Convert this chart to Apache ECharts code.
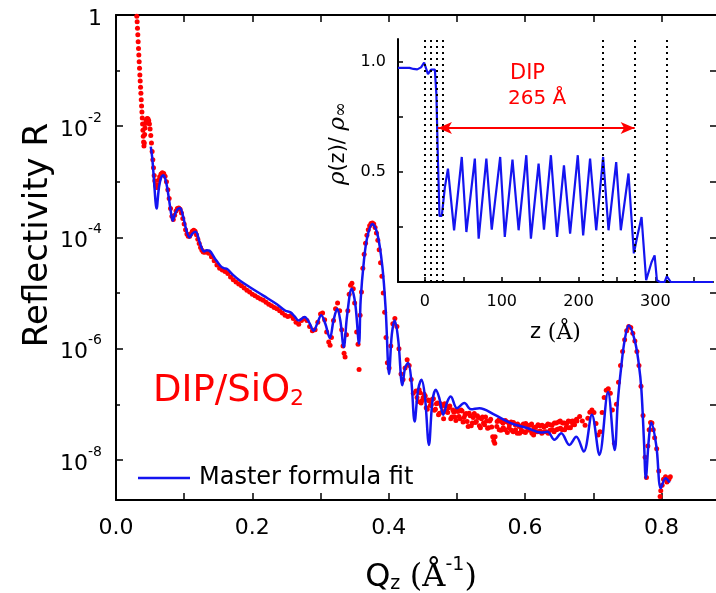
<!DOCTYPE html>
<html>
<head>
<meta charset="utf-8">
<script src="https://cdn.jsdelivr.net/npm/echarts@6/dist/echarts.min.js"></script>
<style>
  html, body { margin: 0; padding: 0; background: #fff; }
  #chart { width: 716px; height: 593px; }
</style>
</head>
<body>
<div id="chart"></div>
<script>
// measured reflectivity: [Qz (1/Å), R]
const measured = [
  [0.0305, 9.5e-1], [0.0310, 7.6e-1], [0.0315, 5.8e-1], [0.0320, 4.4e-1], [0.0325, 3.3e-1],
  [0.0330, 2.5e-1], [0.0335, 1.9e-1], [0.0340, 1.45e-1], [0.0345, 1.1e-1], [0.0350, 8.3e-2],
  [0.0355, 6.5e-2], [0.0360, 5.0e-2], [0.0365, 3.9e-2], [0.0370, 3.0e-2], [0.0375, 2.3e-2],
  [0.0380, 1.8e-2], [0.0385, 1.4e-2], [0.0390, 1.1e-2], [0.0395, 8.5e-3], [0.0400, 6.6e-3],
  [0.0405, 5.2e-3], [0.0410, 4.4e-3], [0.0415, 5.0e-3], [0.0420, 7.1e-3], [0.0425, 9.3e-3],
  [0.0432, 1.12e-2], [0.0440, 1.26e-2], [0.0450, 1.35e-2], [0.0460, 1.38e-2], [0.0470, 1.35e-2],
  [0.0480, 1.26e-2], [0.0490, 1.1e-2], [0.0500, 8.9e-3], [0.0510, 6.8e-3], [0.0520, 5.0e-3],
  [0.0530, 3.5e-3], [0.0540, 2.5e-3], [0.0550, 1.8e-3], [0.0560, 1.3e-3], [0.0570, 1.05e-3],
  [0.0580, 8.7e-4], [0.0590, 7.9e-4], [0.0600, 7.9e-4], [0.0610, 8.9e-4], [0.0625, 1.07e-3],
  [0.0640, 1.23e-3], [0.0660, 1.38e-3], [0.0680, 1.45e-3], [0.0700, 1.41e-3], [0.0720, 1.26e-3],
  [0.0740, 1.0e-3], [0.0760, 7.2e-4], [0.0780, 5.0e-4], [0.0800, 3.3e-4], [0.0820, 2.4e-4],
  [0.0840, 2.1e-4], [0.0860, 2.5e-4], [0.0880, 3.0e-4], [0.0900, 3.3e-4], [0.0920, 3.4e-4],
  [0.0940, 3.2e-4], [0.0960, 2.75e-4], [0.0980, 2.2e-4], [0.1000, 1.74e-4], [0.1020, 1.38e-4],
  [0.1040, 1.15e-4], [0.1060, 1.05e-4], [0.1080, 1.05e-4], [0.1100, 1.17e-4], [0.1120, 1.29e-4],
  [0.1140, 1.35e-4], [0.1160, 1.29e-4], [0.1180, 1.12e-4], [0.1200, 9.3e-5], [0.1220, 7.8e-5],
  [0.1240, 6.6e-5], [0.1260, 5.9e-5], [0.1280, 5.5e-5], [0.1300, 5.4e-5], [0.1330, 5.5e-5],
  [0.1360, 5.2e-5], [0.1400, 4.5e-5], [0.1440, 3.8e-5], [0.1480, 3.2e-5], [0.1520, 2.8e-5],
  [0.1560, 2.6e-5], [0.1600, 2.45e-5], [0.1640, 2.24e-5], [0.1680, 1.95e-5], [0.1720, 1.74e-5],
  [0.1760, 1.58e-5], [0.1800, 1.45e-5], [0.1840, 1.35e-5], [0.1880, 1.23e-5], [0.1920, 1.12e-5],
  [0.1960, 1.05e-5], [0.2000, 9.5e-6], [0.2040, 8.9e-6], [0.2080, 8.3e-6], [0.2120, 7.8e-6],
  [0.2160, 7.4e-6], [0.2200, 6.8e-6], [0.2240, 6.3e-6], [0.2280, 5.9e-6], [0.2320, 5.5e-6],
  [0.2360, 5.2e-6], [0.2400, 4.8e-6], [0.2440, 4.4e-6], [0.2480, 4.0e-6], [0.2520, 3.8e-6],
  [0.2560, 3.9e-6], [0.2600, 3.5e-6], [0.2640, 3.0e-6], [0.2680, 2.75e-6], [0.2720, 3.2e-6],
  [0.2760, 3.5e-6], [0.2800, 3.2e-6], [0.2840, 2.5e-6], [0.2880, 2.1e-6], [0.2920, 2.2e-6],
  [0.2960, 3.0e-6], [0.3000, 4.2e-6], [0.3030, 4.4e-6], [0.3060, 3.3e-6], [0.3090, 2.0e-6],
  [0.3120, 1.32e-6], [0.3140, 1.15e-6], [0.3160, 1.58e-6], [0.3190, 3.2e-6], [0.3220, 5.2e-6],
  [0.3250, 6.6e-6], [0.3280, 4.8e-6], [0.3310, 2.2e-6], [0.3330, 1.12e-6], [0.3345, 8.3e-7],
  [0.3360, 7.1e-7], [0.3380, 1.78e-6], [0.3400, 4.8e-6], [0.3420, 9.5e-6], [0.3440, 1.38e-5],
  [0.3460, 1.5e-5], [0.3480, 1.2e-5], [0.3500, 6.6e-6], [0.3530, 2.0e-6], [0.3550, 1.2e-6],
  [0.3565, 4.2e-7], [0.3580, 4.0e-6], [0.3600, 1.05e-5], [0.3620, 2.8e-5], [0.3640, 5.0e-5],
  [0.3660, 7.9e-5], [0.3680, 1.1e-4], [0.3700, 1.38e-4], [0.3720, 1.62e-4], [0.3740, 1.78e-4],
  [0.3760, 1.82e-4], [0.3780, 1.74e-4], [0.3800, 1.51e-4], [0.3820, 1.2e-4], [0.3840, 8.9e-5],
  [0.3860, 6.0e-5], [0.3880, 3.5e-5], [0.3900, 2.0e-5], [0.3920, 1.0e-5], [0.3940, 4.5e-6],
  [0.3960, 1.58e-6], [0.3980, 5.6e-7], [0.4005, 4.5e-7], [0.4030, 1.12e-6], [0.4060, 2.8e-6],
  [0.4090, 3.5e-6], [0.4120, 2.5e-6], [0.4150, 1.0e-6], [0.4180, 3.5e-7], [0.4210, 2.8e-7],
  [0.4240, 4.5e-7], [0.4270, 6.3e-7], [0.4300, 5.0e-7], [0.4330, 2.8e-7], [0.4360, 1.58e-7],
  [0.440, 1.74e-7], [0.443, 1.12e-7], [0.446, 1.62e-7], [0.449, 1.17e-7], [0.452, 1.51e-7],
  [0.455, 8.7e-8], [0.458, 1.2e-7], [0.461, 9.5e-8], [0.464, 1.23e-7], [0.467, 7.8e-8],
  [0.470, 1.02e-7], [0.473, 6.5e-8], [0.476, 1.02e-7], [0.479, 7.4e-8], [0.482, 1.02e-7],
  [0.485, 7.4e-8], [0.488, 8.7e-8], [0.491, 5.5e-8], [0.494, 7.9e-8], [0.497, 5.9e-8],
  [0.500, 7.9e-8], [0.503, 6.0e-8], [0.506, 7.9e-8], [0.509, 4.8e-8], [0.512, 6.5e-8],
  [0.515, 4.9e-8], [0.518, 6.9e-8], [0.521, 4.1e-8], [0.524, 5.8e-8], [0.527, 4.7e-8],
  [0.530, 6.2e-8], [0.533, 4.1e-8], [0.536, 5.5e-8], [0.539, 4.6e-8], [0.542, 5.9e-8],
  [0.545, 3.7e-8], [0.548, 5.0e-8], [0.551, 3.9e-8], [0.554, 2.2e-8], [0.556, 2.6e-8],
  [0.559, 4.9e-8], [0.562, 3.5e-8], [0.565, 4.9e-8], [0.568, 3.8e-8], [0.571, 5.1e-8],
  [0.574, 3.1e-8], [0.577, 4.3e-8], [0.580, 3.4e-8], [0.583, 4.7e-8], [0.586, 3.5e-8],
  [0.589, 4.4e-8], [0.592, 3.0e-8], [0.595, 4.1e-8], [0.598, 3.2e-8], [0.601, 4.5e-8],
  [0.604, 3.5e-8], [0.607, 4.2e-8], [0.610, 3.0e-8], [0.613, 3.8e-8], [0.616, 3.2e-8],
  [0.619, 4.3e-8], [0.622, 3.3e-8], [0.625, 4.2e-8], [0.628, 3.2e-8], [0.631, 4.1e-8],
  [0.634, 3.0e-8], [0.637, 4.3e-8], [0.640, 3.5e-8], [0.643, 4.6e-8], [0.646, 3.5e-8],
  [0.649, 4.8e-8], [0.652, 3.7e-8], [0.655, 4.6e-8], [0.658, 3.5e-8], [0.661, 4.5e-8],
  [0.664, 3.8e-8], [0.667, 4.9e-8], [0.670, 4.3e-8], [0.673, 5.0e-8], [0.676, 5.0e-8],
  [0.4415, 1.32e-7], [0.4445, 1.82e-7], [0.4475, 1.05e-7], [0.4505, 1.32e-7], [0.4535, 1.41e-7],
  [0.4565, 8.1e-8], [0.4595, 1.15e-7], [0.4625, 9.8e-8], [0.4655, 1.26e-7], [0.4685, 8.1e-8],
  [0.4715, 1.05e-7], [0.4745, 6.9e-8], [0.4775, 9.1e-8], [0.4805, 5.5e-8], [0.4835, 9.3e-8],
  [0.4865, 7.1e-8], [0.4895, 9.3e-8], [0.4925, 5.9e-8], [0.4955, 7.2e-8], [0.4985, 5.1e-8],
  [0.5015, 7.4e-8], [0.5045, 5.5e-8], [0.5075, 7.6e-8], [0.5105, 5.8e-8], [0.5135, 6.8e-8],
  [0.5165, 4.0e-8], [0.5195, 6.2e-8], [0.5225, 4.6e-8], [0.5255, 6.8e-8], [0.5285, 4.9e-8],
  [0.5315, 5.8e-8], [0.5345, 3.8e-8], [0.5375, 5.9e-8], [0.5405, 4.3e-8], [0.5435, 5.0e-8],
  [0.5465, 3.8e-8], [0.5495, 5.4e-8], [0.5525, 2.6e-8], [0.5555, 2.0e-8], [0.5585, 4.0e-8],
  [0.5615, 5.2e-8], [0.5645, 3.4e-8], [0.5675, 4.6e-8], [0.5705, 3.5e-8], [0.5735, 4.8e-8],
  [0.5765, 3.8e-8], [0.5795, 4.8e-8], [0.5825, 3.2e-8], [0.5855, 4.3e-8], [0.5885, 3.0e-8],
  [0.5915, 4.0e-8], [0.5945, 3.4e-8], [0.5975, 4.4e-8], [0.6005, 3.1e-8], [0.6035, 4.1e-8],
  [0.6065, 3.4e-8], [0.6095, 4.4e-8], [0.6125, 2.8e-8], [0.6155, 3.9e-8], [0.6185, 3.2e-8],
  [0.6215, 4.1e-8], [0.6245, 3.0e-8], [0.6275, 3.9e-8], [0.6305, 3.2e-8], [0.6335, 4.4e-8],
  [0.6365, 3.4e-8], [0.6395, 4.2e-8], [0.6425, 3.2e-8], [0.6455, 4.6e-8], [0.6485, 3.6e-8],
  [0.6515, 5.0e-8], [0.6545, 3.5e-8], [0.6575, 4.6e-8], [0.6605, 3.9e-8], [0.6635, 5.0e-8],
  [0.6665, 3.8e-8], [0.6695, 5.0e-8], [0.6725, 4.3e-8], [0.6755, 5.4e-8],
  [0.680, 6.0e-8], [0.684, 5.0e-8], [0.688, 4.2e-8], [0.692, 5.6e-8], [0.695, 7.2e-8],
  [0.698, 7.9e-8], [0.701, 7.1e-8], [0.704, 4.5e-8], [0.707, 2.8e-8], [0.710, 3.2e-8],
  [0.713, 7.1e-8], [0.716, 1.32e-7], [0.719, 1.78e-7], [0.722, 1.9e-7], [0.725, 1.58e-7],
  [0.728, 7.9e-8], [0.731, 2.0e-8], [0.734, 1.0e-7], [0.737, 2.5e-7], [0.740, 5.0e-7],
  [0.743, 8.9e-7], [0.746, 1.45e-6], [0.749, 2.1e-6], [0.752, 2.5e-6], [0.755, 2.4e-6],
  [0.758, 1.9e-6], [0.761, 1.38e-6], [0.764, 8.9e-7], [0.767, 5.0e-7], [0.770, 2.1e-7],
  [0.773, 6.3e-8], [0.776, 1.12e-8], [0.778, 4.8e-9], [0.780, 1.78e-8], [0.782, 3.5e-8],
  [0.784, 4.7e-8], [0.786, 4.6e-8], [0.788, 3.5e-8], [0.790, 2.5e-8], [0.793, 1.58e-8],
  [0.796, 6.3e-9], [0.798, 2.2e-9], [0.799, 2.8e-9], [0.801, 3.5e-9], [0.803, 4.5e-9],
  [0.806, 5.0e-9], [0.808, 4.0e-9], [0.811, 4.5e-9], [0.813, 5.0e-9]
];

// master formula fit
const fitQ = [
  0.051, 0.053, 0.055, 0.057, 0.0585, 0.0598, 0.061, 0.063, 0.066, 0.0696,
  0.073, 0.077, 0.081, 0.0832, 0.086, 0.090, 0.094, 0.098, 0.103, 0.1078,
  0.112, 0.117, 0.122, 0.126, 0.129, 0.133, 0.137, 0.145, 0.153, 0.158,
  0.163, 0.172, 0.182, 0.197, 0.2167, 0.236, 0.2485, 0.256, 0.262, 0.268,
  0.2765, 0.283, 0.290, 0.295, 0.301, 0.307, 0.3137, 0.319, 0.3245, 0.329,
  0.334, 0.339, 0.3456, 0.351, 0.3564, 0.3588, 0.3637, 0.3686, 0.376, 0.3833,
  0.3907, 0.3956, 0.4005, 0.4045, 0.4088, 0.414, 0.420, 0.424, 0.4284, 0.433,
  0.438, 0.443, 0.448, 0.453, 0.459, 0.464, 0.469, 0.474, 0.480, 0.486,
  0.491, 0.500, 0.511, 0.5206, 0.533, 0.555, 0.579, 0.604, 0.6235, 0.633,
  0.643, 0.653, 0.665, 0.675, 0.686, 0.698, 0.709, 0.7216, 0.7314, 0.736,
  0.741, 0.746, 0.752, 0.7608, 0.7666, 0.7706, 0.7745, 0.777, 0.7814, 0.785,
  0.7926, 0.799, 0.806, 0.812
];
const fitR = [
  4.3e-3, 2.8e-3, 1.4e-3, 6.3e-4, 3.8e-4, 3.3e-4, 4.5e-4, 7.9e-4, 1.17e-3, 1.32e-3,
  1.05e-3, 5.6e-4, 2.6e-4, 2.0e-4, 2.5e-4, 3.2e-4, 3.4e-4, 2.5e-4, 1.38e-4, 1.0e-4,
  1.17e-4, 1.26e-4, 8.7e-5, 6.3e-5, 5.6e-5, 5.9e-5, 5.8e-5, 4.2e-5, 3.1e-5, 2.8e-5,
  2.7e-5, 2.1e-5, 1.66e-5, 1.26e-5, 8.9e-6, 6.3e-6, 4.8e-6, 4.5e-6, 3.8e-6, 3.2e-6,
  3.7e-6, 3.0e-6, 2.1e-6, 2.8e-6, 4.0e-6, 2.8e-6, 1.55e-6, 3.2e-6, 5.2e-6, 3.2e-6,
  1.07e-6, 4.0e-6, 1.2e-5, 6.3e-6, 1.23e-6, 7.4e-6, 3.9e-5, 1.02e-4, 1.74e-4, 1.17e-4,
  2.95e-5, 4.9e-6, 3.5e-7, 1.78e-6, 3.2e-6, 1.41e-6, 2.2e-7, 4.5e-7, 5.6e-7, 2.8e-7,
  4.9e-8, 1.78e-7, 2.75e-7, 1.41e-7, 1.86e-8, 1.12e-7, 1.82e-7, 1.32e-7, 6.5e-8, 1.12e-7,
  1.38e-7, 8.5e-8, 1.05e-7, 8.1e-8, 8.5e-8, 6.5e-8, 4.6e-8, 3.7e-8, 3.1e-8, 3.2e-8,
  2.3e-8, 3.0e-8, 1.86e-8, 2.6e-8, 1.41e-8, 6.5e-8, 1.23e-8, 1.66e-7, 1.51e-8, 1.12e-7,
  4.7e-7, 1.41e-6, 2.6e-6, 1.41e-6, 5.5e-7, 1.82e-7, 2.0e-8, 4.7e-9, 2.3e-8, 4.7e-8,
  1.74e-8, 3.1e-9, 4.7e-9, 3.9e-9
];

// inset: density profile rho(z)/rho_inf
const profileZ = [
  -35, -20, -15, -10, -5, -1, 4, 8, 10, 13, 15, 17, 19, 22, 26, 30, 38, 48, 54, 65,
  70, 80, 87, 98, 104, 114, 122, 132, 138, 148, 155, 164, 172, 181, 189, 199, 206, 215, 223, 232,
  239, 249, 255, 265, 272, 276, 282, 288, 295, 299, 302, 306, 312, 315, 320, 375
];
const profileRho = [
  0.973, 0.973, 0.968, 0.966, 0.975, 0.997, 0.944, 0.965, 0.973, 0.965, 0.85, 0.55, 0.30, 0.30, 0.43, 0.515, 0.235, 0.568, 0.227, 0.561,
  0.197, 0.561, 0.238, 0.568, 0.205, 0.556, 0.235, 0.576, 0.197, 0.538, 0.238, 0.576, 0.205, 0.530, 0.22, 0.576, 0.212, 0.561, 0.235, 0.568,
  0.235, 0.545, 0.235, 0.493, 0.13, 0.20, 0.295, 0.008, 0.09, 0.121, 0.008, 0.0, 0.0, 0.026, 0.0, 0.0
];
const layerEdges = [0, 8, 16, 23, 232, 273, 315];
const dipArrowZ = [17, 273];
const dipArrowRho = 0.70;

// ticks and labels
const qTicks = [0.1, 0.2, 0.3, 0.4, 0.5, 0.6, 0.7, 0.8];
const qLabels = [0, 0.2, 0.4, 0.6, 0.8];
const rMajor = [1e-8, 1e-6, 1e-4, 1e-2, 1];
const rMinor = [1e-7, 1e-5, 1e-3, 1e-1];
const rAll = [1e-8, 1e-7, 1e-6, 1e-5, 1e-4, 1e-3, 1e-2, 1e-1];
const zTicks = [0, 50, 100, 150, 200, 250, 300, 350];
const zLabels = [0, 100, 200, 300];
const rhoTicks = [0.25, 0.5, 0.75, 1.0];
const rhoLabels = [0.5, 1.0];

const FONT = 'DejaVu Sans';
const SERIF = 'DejaVu Serif';
const RED = '#ff0000';
const BLUE = '#1414f0';
const AXIS = { color: '#000', width: 2 };

function powLabel(v) {
  const e = Math.round(Math.log10(v));
  if (e === 0) return '{b|1}';
  return '{b|10}{s|' + e + '}';
}

const chart = echarts.init(document.getElementById('chart'));

const option = {
  animation: false,
  backgroundColor: '#fff',
  textStyle: { fontFamily: FONT },
  grid: [
    { left: 116, top: 15, right: 0, bottom: 93, outerBoundsMode: 'none', containLabel: false },
    { left: 398, top: 39, width: 315, height: 243, outerBoundsMode: 'none', containLabel: false }
  ],
  legend: {
    data: [{ name: 'Master formula fit', icon: 'rect' }],
    left: 133, top: 461,
    itemWidth: 52, itemHeight: 2.5,
    textStyle: { fontSize: 24, fontFamily: FONT, color: '#000', padding: [0, 0, 0, 4] }
  },
  xAxis: [
    {
      type: 'value', gridIndex: 0, min: 0, max: 0.88,
      axisLine: { onZero: false, lineStyle: AXIS },
      axisTick: { inside: true, length: 7, customValues: qTicks, lineStyle: { color: '#000', width: 1.5 } },
      axisLabel: { customValues: qLabels, formatter: v => v.toFixed(1), fontSize: 22, color: '#000', margin: 17, fontFamily: FONT },
      splitLine: { show: false },
      name: '{q|Q}{sub|z}{sp| }{par|(Å}{sup|-1}{par|)}',
      nameLocation: 'middle', nameGap: 56,
      nameTextStyle: {
        padding: [0, 0, 0, 10],
        rich: {
          q: { fontSize: 32, fontFamily: FONT, color: '#000', lineHeight: 38, verticalAlign: 'bottom' },
          sub: { fontSize: 19, fontFamily: FONT, color: '#000', verticalAlign: 'bottom' },
          sp: { fontSize: 30, fontFamily: FONT, color: '#000' },
          par: { fontSize: 32, fontFamily: SERIF, color: '#000', lineHeight: 38, verticalAlign: 'bottom' },
          sup: { fontSize: 19, fontFamily: FONT, color: '#000', verticalAlign: 'top' }
        }
      }
    },
    {
      type: 'value', gridIndex: 0, min: 0, max: 0.88, position: 'top',
      axisLine: { onZero: false, lineStyle: AXIS },
      axisTick: { inside: true, length: 7, customValues: qTicks, lineStyle: { color: '#000', width: 1.5 } },
      axisLabel: { show: false },
      splitLine: { show: false }
    },
    {
      type: 'value', gridIndex: 1, min: -35, max: 375,
      axisLine: { onZero: false, lineStyle: AXIS },
      axisTick: { inside: true, length: 5, customValues: zTicks, lineStyle: { color: '#000', width: 1.5 } },
      axisLabel: { customValues: zLabels, fontSize: 16, color: '#000', margin: 12, fontFamily: FONT },
      splitLine: { show: false },
      name: '{t|z }{par|(Å)}',
      nameLocation: 'middle', nameGap: 40,
      nameTextStyle: {
        rich: {
          t: { fontSize: 21, fontFamily: FONT, color: '#000' },
          par: { fontSize: 22, fontFamily: SERIF, color: '#000' }
        }
      }
    }
  ],
  yAxis: [
    {
      type: 'log', logBase: 10, gridIndex: 0, min: 1.9e-9, max: 1, position: 'left',
      axisLine: { show: true, onZero: false, lineStyle: AXIS },
      axisTick: { inside: true, length: 7, customValues: rMajor, lineStyle: { color: '#000', width: 1.5 } },
      axisLabel: {
        customValues: rMajor, formatter: powLabel, margin: 14, color: '#000',
        rich: {
          b: { fontSize: 22, fontFamily: FONT, color: '#000', lineHeight: 30, verticalAlign: 'bottom', padding: [6, 0, 0, 0] },
          s: { fontSize: 14, fontFamily: FONT, color: '#000', verticalAlign: 'top' }
        }
      },
      splitLine: { show: false }
    },
    {
      type: 'log', logBase: 10, gridIndex: 0, min: 1.9e-9, max: 1, position: 'left',
      axisLine: { show: false, onZero: false },
      axisTick: { inside: true, length: 4, customValues: rMinor, lineStyle: { color: '#000', width: 1.5 } },
      axisLabel: { show: false },
      splitLine: { show: false }
    },
    {
      type: 'log', logBase: 10, gridIndex: 0, min: 1.9e-9, max: 1, position: 'right',
      axisLine: { show: false, onZero: false },
      axisTick: { inside: true, length: 6, customValues: rAll, lineStyle: { color: '#000', width: 1.5 } },
      axisLabel: { show: false },
      splitLine: { show: false }
    },
    {
      type: 'value', gridIndex: 1, min: 0, max: 1.104,
      axisLine: { show: true, onZero: false, lineStyle: AXIS },
      axisTick: { inside: true, length: 5, customValues: rhoTicks, lineStyle: { color: '#000', width: 1.5 } },
      axisLabel: { customValues: rhoLabels, formatter: v => v.toFixed(1), fontSize: 16, color: '#000', margin: 12, fontFamily: FONT },
      splitLine: { show: false },
      name: '{i|ρ}{n|(z)/ }{i|ρ}{sub|∞}',
      nameLocation: 'middle', nameRotate: 90, nameGap: 48,
      nameTextStyle: {
        padding: [0, 0, 0, 34],
        rich: {
          i: { fontSize: 23, fontFamily: SERIF, fontStyle: 'italic', color: '#000' },
          n: { fontSize: 21, fontFamily: FONT, color: '#000' },
          sub: { fontSize: 18, fontFamily: SERIF, color: '#000', verticalAlign: 'bottom' }
        }
      }
    }
  ],
  series: [
    {
      name: 'data', type: 'scatter', xAxisIndex: 0, yAxisIndex: 0,
      data: measured, symbolSize: 5,
      itemStyle: { color: RED, opacity: 1 }, z: 2
    },
    {
      name: 'Master formula fit', type: 'line', xAxisIndex: 0, yAxisIndex: 0,
      data: fitQ.map((q, i) => [q, fitR[i]]),
      symbol: 'none', smooth: 0.35,
      lineStyle: { color: BLUE, width: 2.5 }, itemStyle: { color: BLUE }, z: 3
    },
    {
      name: 'profile', type: 'line', xAxisIndex: 2, yAxisIndex: 3,
      data: profileZ.map((z, i) => [z, profileRho[i]]),
      symbol: 'none',
      lineStyle: { color: BLUE, width: 2.2 }, z: 3,
      markLine: {
        silent: true, symbol: ['none', 'none'], label: { show: false },
        lineStyle: { color: '#000', type: [2, 4], width: 2 },
        data: layerEdges.map(z => ({ xAxis: z }))
      }
    },
    {
      name: 'dip', type: 'line', xAxisIndex: 2, yAxisIndex: 3, data: [],
      markLine: {
        silent: true, symbol: ['arrow', 'arrow'], symbolSize: [9, 14], label: { show: false },
        lineStyle: { color: RED, type: 'solid', width: 2 },
        data: [[{ coord: [dipArrowZ[0], dipArrowRho] }, { coord: [dipArrowZ[1], dipArrowRho] }]]
      }
    }
  ],
  graphic: [
    {
      type: 'text', x: 38, y: 235, rotation: Math.PI / 2,
      style: { text: 'Reflectivity R', fontSize: 34, fontFamily: FONT, fill: '#000', align: 'center', verticalAlign: 'middle' }
    },
    {
      type: 'text', left: 153, top: 373,
      style: {
        text: '{m|DIP/SiO}{s|2}',
        rich: {
          m: { fontSize: 37, fontFamily: FONT, fill: RED, lineHeight: 42, verticalAlign: 'bottom' },
          s: { fontSize: 22, fontFamily: FONT, fill: RED, verticalAlign: 'bottom' }
        }
      }
    },
    {
      type: 'text', left: 510, top: 63,
      style: { text: 'DIP', fontSize: 21, fontFamily: FONT, fill: RED }
    },
    {
      type: 'text', left: 508, top: 89,
      style: { text: '265 Å', fontSize: 20, fontFamily: FONT, fill: RED }
    }
  ]
};

chart.setOption(option);
</script>
</body>
</html>
